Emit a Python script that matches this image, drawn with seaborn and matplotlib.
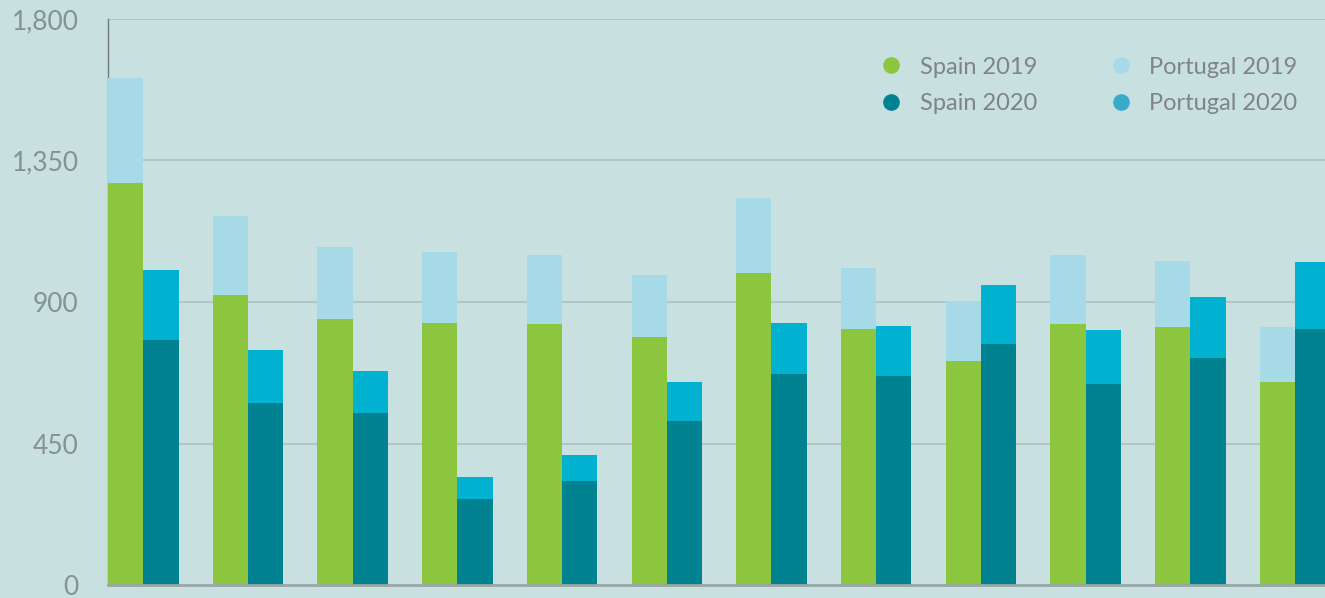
import matplotlib
matplotlib.use("Agg")
import matplotlib.pyplot as plt
from matplotlib.lines import Line2D
import seaborn as sns
import pandas as pd

groups = [str(i) for i in range(1, 13)]
spain_2019 = [1278, 922, 846, 833, 830, 789, 992, 814, 712, 830, 820, 646]
portugal_2019 = [334, 251, 229, 226, 219, 197, 239, 194, 191, 219, 210, 174]
spain_2020 = [779, 579, 547, 273, 331, 521, 671, 665, 766, 639, 722, 814]
portugal_2020 = [223, 168, 134, 70, 82, 125, 162, 159, 188, 172, 194, 213]
yticks = [0, 450, 900, 1350, 1800]
ytick_labels = ["0", "450", "900", "1,350", "1,800"]
legend_labels = ["Spain 2019", "Spain 2020", "Portugal 2019", "Portugal 2020"]

bg = "#c8e0e0"
c_s19, c_s20 = "#8cc63f", "#008290"
c_p19, c_p20 = "#a6dae6", "#00b2d0"

rows = []
for i, g in enumerate(groups):
    rows.append({"group": g, "year": "2019", "spain": spain_2019[i], "total": spain_2019[i] + portugal_2019[i]})
    rows.append({"group": g, "year": "2020", "spain": spain_2020[i], "total": spain_2020[i] + portugal_2020[i]})
df = pd.DataFrame(rows)

sns.set_theme(style="white")
plt.rcParams["font.family"] = ["Lato", "DejaVu Sans"]

fig = plt.figure(figsize=(13.25, 5.98), dpi=100, facecolor=bg)
ax = fig.add_axes([108 / 1325, 13 / 598, 1 - 108 / 1325, (585 - 19) / 598])
ax.set_facecolor(bg)

for y in yticks[1:]:
    ax.axhline(y, color="#b2c2c2", lw=1.3, zorder=0)

sns.barplot(data=df, x="group", y="total", hue="year", palette={"2019": c_p19, "2020": c_p20},
            width=0.674, gap=0, dodge=True, errorbar=None, legend=False, ax=ax, zorder=2,
            linewidth=0, saturation=1)
sns.barplot(data=df, x="group", y="spain", hue="year", palette={"2019": c_s19, "2020": c_s20},
            width=0.674, gap=0, dodge=True, errorbar=None, legend=False, ax=ax, zorder=3,
            linewidth=0, saturation=1)

ax.set_ylim(0, 1800)
ax.set_xlim(-0.337, -0.337 + (1325 - 108) / 104.7)
ax.set_yticks(yticks)
ax.set_yticklabels(ytick_labels)
ax.set_xticks([])
ax.set_xlabel("")
ax.set_ylabel("")
ax.tick_params(axis="y", length=0, pad=21, labelsize=19, labelcolor="#849290")

for s in ["top", "right"]:
    ax.spines[s].set_visible(False)
ax.spines["left"].set_color("#6f7a7a")
ax.spines["left"].set_linewidth(1.0)
ax.spines["left"].set_zorder(1)
ax.spines["bottom"].set_color("#9aa6a6")
ax.spines["bottom"].set_linewidth(2)
ax.spines["bottom"].set_zorder(4)

handles = [Line2D([], [], marker="o", ls="", markersize=12, markerfacecolor=c, markeredgewidth=0)
           for c in [c_s19, c_s20, c_p19, "#3aaacb"]]
leg = ax.legend(handles, legend_labels, ncol=2, loc="upper right", bbox_to_anchor=(0.995, 0.971),
                frameon=False, fontsize=17, labelcolor="#808484", columnspacing=2.54,
                handletextpad=0.22, labelspacing=0.65)

fig.savefig("out.png", dpi=100, facecolor=bg)
